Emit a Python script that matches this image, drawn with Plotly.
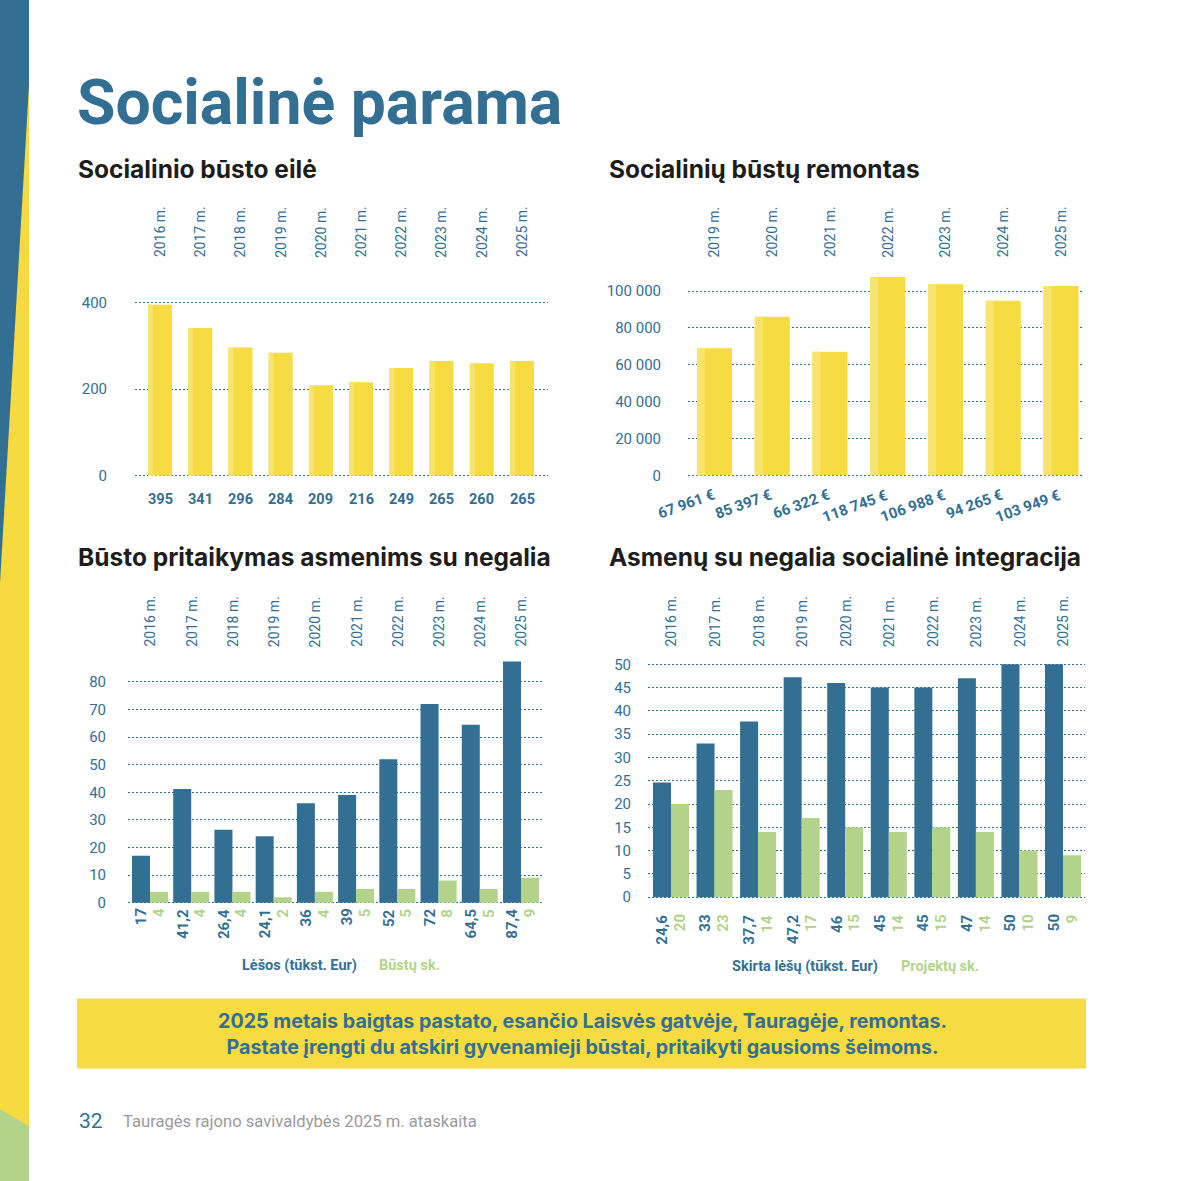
import plotly.graph_objects as go

W = H = 1181

# ---------------- data ----------------
queue_years = ["2016 m.", "2017 m.", "2018 m.", "2019 m.", "2020 m.",
               "2021 m.", "2022 m.", "2023 m.", "2024 m.", "2025 m."]
queue_values = [395, 341, 296, 284, 209, 216, 249, 265, 260, 265]

repair_years = ["2019 m.", "2020 m.", "2021 m.", "2022 m.", "2023 m.", "2024 m.", "2025 m."]
repair_costs = [67961, 85397, 66322, 118745, 106988, 94265, 103949]          # labels
repair_bar_heights = [69000, 86000, 67000, 107700, 103700, 94700, 102800]    # heights as drawn

adapt_years = ["2016 m.", "2017 m.", "2018 m.", "2019 m.", "2020 m.",
               "2021 m.", "2022 m.", "2023 m.", "2024 m.", "2025 m."]
adapt_funds = [17, 41.2, 26.4, 24.1, 36, 39, 52, 72, 64.5, 87.4]
adapt_homes = [4, 4, 4, 2, 4, 5, 5, 8, 5, 9]

integ_years = ["2016 m.", "2017 m.", "2018 m.", "2019 m.", "2020 m.",
               "2021 m.", "2022 m.", "2023 m.", "2024 m.", "2025 m."]
integ_funds = [24.6, 33, 37.7, 47.2, 46, 45, 45, 47, 50, 50]
integ_projects = [20, 23, 14, 17, 15, 14, 15, 14, 10, 9]

# ---------------- style ----------------
BLUE = "#336f93"
YELLOW = "#f6db42"
YELLOW_LIGHT = "#f8e36f"
GREEN = "#b3d38a"
DARK = "#1d1d1b"
GREY = "#9a9a9a"
FONT = "Roboto"
HEAD = "Inter"

# vertical compensation for the page capture
OFF = 2.0
SC = 0.993


def X(px):
    return px / W


def Y(py):
    return 1 - ((py - OFF) / SC) / H


def fmt_dec(v):
    return ("%g" % v).replace(".", ",")


def fmt_eur(v):
    return f"{v:,}".replace(",", " ") + " €"


fig = go.Figure()
annotations = []
shapes = []
layout_axes = {}


def setup_axes(idx, n, left, right, c0, clast, ytop, ybot, y0px, refpx, refval, dtick,
               standoff, tickformat=None):
    spacing = (clast - c0) / (n - 1)
    xr = [-(c0 - left) / spacing, (n - 1) + (right - clast) / spacing]
    k = (y0px - refpx) / refval
    yr = [-(ybot - y0px) / k, (y0px - ytop) / k]
    xn = "xaxis" if idx == 1 else f"xaxis{idx}"
    yn = "yaxis" if idx == 1 else f"yaxis{idx}"
    ya = "y" if idx == 1 else f"y{idx}"
    xa = "x" if idx == 1 else f"x{idx}"
    layout_axes[xn] = dict(domain=[X(left), X(right)], range=xr, anchor=ya,
                           showgrid=False, zeroline=False, showticklabels=False,
                           showline=False, ticks="", fixedrange=True)
    yd = dict(domain=[Y(ybot), Y(ytop)], range=yr, anchor=xa,
              showgrid=True, gridcolor=BLUE, griddash="2px,2px", gridwidth=1,
              zeroline=False, showline=False, ticks="", dtick=dtick, tick0=0,
              tickfont=dict(family=FONT, size=15, color=BLUE),
              ticklabelstandoff=standoff, fixedrange=True)
    if tickformat:
        yd["tickformat"] = tickformat
    layout_axes[yn] = yd
    return xa, ya, spacing


# ---------- Chart 1: Socialinio būsto eilė ----------
xa, ya, sp = setup_axes(1, len(queue_values), 135, 548, 160, 522, 296, 478, 474.5, 301, 400, 200, 27)
idx1 = list(range(len(queue_values)))
wb = 24 / sp
fig.add_trace(go.Bar(x=idx1, y=queue_values, width=wb, offset=-wb / 2,
                     marker=dict(color=YELLOW, line=dict(width=0)), xaxis=xa, yaxis=ya,
                     showlegend=False, hoverinfo="skip"))
fig.add_trace(go.Bar(x=idx1, y=queue_values, width=5 / sp, offset=-wb / 2,
                     marker=dict(color=YELLOW_LIGHT, line=dict(width=0)), xaxis=xa, yaxis=ya,
                     showlegend=False, hoverinfo="skip"))
for i, (yr_, v) in enumerate(zip(queue_years, queue_values)):
    annotations.append(dict(x=i, y=Y(258), xref=xa, yref="paper", text=yr_, textangle=-90,
                            showarrow=False, xanchor="center", yanchor="bottom",
                            font=dict(family=FONT, size=14, color=BLUE)))
    annotations.append(dict(x=i, y=Y(498), xref=xa, yref="paper", text=f"<b>{v}</b>",
                            showarrow=False, xanchor="center", yanchor="middle",
                            font=dict(family=FONT, size=14.5, color=BLUE)))

# ---------- Chart 2: Socialinių būstų remontas ----------
xa, ya, sp = setup_axes(2, len(repair_costs), 688, 1084, 714.5, 1061, 265, 478, 474, 289.5, 100000,
                        20000, 26, tickformat=",d")
idx2 = list(range(len(repair_costs)))
wb = 35 / sp
fig.add_trace(go.Bar(x=idx2, y=repair_bar_heights, width=wb, offset=-wb / 2,
                     marker=dict(color=YELLOW, line=dict(width=0)), xaxis=xa, yaxis=ya,
                     showlegend=False, hoverinfo="skip"))
fig.add_trace(go.Bar(x=idx2, y=repair_bar_heights, width=8 / sp, offset=-wb / 2,
                     marker=dict(color=YELLOW_LIGHT, line=dict(width=0)), xaxis=xa, yaxis=ya,
                     showlegend=False, hoverinfo="skip"))
for i, (yr_, v) in enumerate(zip(repair_years, repair_costs)):
    annotations.append(dict(x=i, y=Y(258), xref=xa, yref="paper", text=yr_, textangle=-90,
                            showarrow=False, xanchor="center", yanchor="bottom",
                            font=dict(family=FONT, size=14, color=BLUE)))
    annotations.append(dict(x=i, y=Y(482), xref=xa, yref="paper", text=f"<b>{fmt_eur(v)}</b>",
                            textangle=-20, showarrow=False, xanchor="right", yanchor="top",
                            xshift=5, font=dict(family=FONT, size=15, color=BLUE)))

# ---------- Chart 3: Būsto pritaikymas ----------
xa, ya, sp = setup_axes(3, len(adapt_funds), 128, 543, 150, 521, 655, 905, 902, 681, 80, 10, 21)
idx3 = list(range(len(adapt_funds)))
w = 18 / sp
fig.add_trace(go.Bar(x=idx3, y=adapt_funds, width=w, offset=-w,
                     marker=dict(color=BLUE, line=dict(width=0)), xaxis=xa, yaxis=ya,
                     showlegend=False, hoverinfo="skip"))
fig.add_trace(go.Bar(x=idx3, y=adapt_homes, width=w, offset=0,
                     marker=dict(color=GREEN, line=dict(width=0)), xaxis=xa, yaxis=ya,
                     showlegend=False, hoverinfo="skip"))
for i, (yr_, a, b) in enumerate(zip(adapt_years, adapt_funds, adapt_homes)):
    annotations.append(dict(x=i, y=Y(648), xref=xa, yref="paper", text=yr_, textangle=-90,
                            showarrow=False, xanchor="center", yanchor="bottom",
                            font=dict(family=FONT, size=14, color=BLUE)))
    annotations.append(dict(x=i - w / 2, y=Y(906), xref=xa, yref="paper", text=f"<b>{fmt_dec(a)}</b>",
                            textangle=-90, showarrow=False, xanchor="center", yanchor="top",
                            font=dict(family=FONT, size=15, color=BLUE)))
    annotations.append(dict(x=i + w / 2, y=Y(906), xref=xa, yref="paper", text=f"<b>{fmt_dec(b)}</b>",
                            textangle=-90, showarrow=False, xanchor="center", yanchor="top",
                            font=dict(family=FONT, size=15, color=GREEN)))
annotations.append(dict(x=X(299), y=Y(965), xref="paper", yref="paper", text="<b>Lėšos (tūkst. Eur)</b>",
                        showarrow=False, xanchor="center", yanchor="middle",
                        font=dict(family=FONT, size=14.5, color=BLUE)))
annotations.append(dict(x=X(409), y=Y(965), xref="paper", yref="paper", text="<b>Būstų sk.</b>",
                        showarrow=False, xanchor="center", yanchor="middle",
                        font=dict(family=FONT, size=14.5, color=GREEN)))

# ---------- Chart 4: Socialinė integracija ----------
xa, ya, sp = setup_axes(4, len(integ_funds), 648, 1085, 671, 1063, 658, 900, 896.5, 663.3, 50, 5, 16)
idx4 = list(range(len(integ_funds)))
w = 18 / sp
fig.add_trace(go.Bar(x=idx4, y=integ_funds, width=w, offset=-w,
                     marker=dict(color=BLUE, line=dict(width=0)), xaxis=xa, yaxis=ya,
                     showlegend=False, hoverinfo="skip"))
fig.add_trace(go.Bar(x=idx4, y=integ_projects, width=w, offset=0,
                     marker=dict(color=GREEN, line=dict(width=0)), xaxis=xa, yaxis=ya,
                     showlegend=False, hoverinfo="skip"))
for i, (yr_, a, b) in enumerate(zip(integ_years, integ_funds, integ_projects)):
    annotations.append(dict(x=i, y=Y(648), xref=xa, yref="paper", text=yr_, textangle=-90,
                            showarrow=False, xanchor="center", yanchor="bottom",
                            font=dict(family=FONT, size=14, color=BLUE)))
    annotations.append(dict(x=i - w / 2, y=Y(912), xref=xa, yref="paper", text=f"<b>{fmt_dec(a)}</b>",
                            textangle=-90, showarrow=False, xanchor="center", yanchor="top",
                            font=dict(family=FONT, size=15, color=BLUE)))
    annotations.append(dict(x=i + w / 2, y=Y(912), xref=xa, yref="paper", text=f"<b>{fmt_dec(b)}</b>",
                            textangle=-90, showarrow=False, xanchor="center", yanchor="top",
                            font=dict(family=FONT, size=15, color=GREEN)))
annotations.append(dict(x=X(805), y=Y(966), xref="paper", yref="paper", text="<b>Skirta lėšų (tūkst. Eur)</b>",
                        showarrow=False, xanchor="center", yanchor="middle",
                        font=dict(family=FONT, size=14.5, color=BLUE)))
annotations.append(dict(x=X(940), y=Y(966), xref="paper", yref="paper", text="<b>Projektų sk.</b>",
                        showarrow=False, xanchor="center", yanchor="middle",
                        font=dict(family=FONT, size=14.5, color=GREEN)))

# ---------- Titles ----------
annotations.append(dict(x=X(75), y=Y(101), xref="paper", yref="paper", text="<b>Socialinė parama</b>",
                        showarrow=False, xanchor="left", yanchor="middle",
                        font=dict(family=FONT, size=62.5, color=BLUE)))
for tx, px, py in [("Socialinio būsto eilė", 76, 167), ("Socialinių būstų remontas", 607, 167),
                   ("Būsto pritaikymas asmenims su negalia", 76, 556),
                   ("Asmenų su negalia socialinė integracija", 607, 556)]:
    annotations.append(dict(x=X(px), y=Y(py), xref="paper", yref="paper", text=f"<b>{tx}</b>",
                            showarrow=False, xanchor="left", yanchor="middle",
                            font=dict(family=HEAD, size=24.5, color=DARK)))

# ---------- Banner ----------
shapes.append(dict(type="rect", xref="paper", yref="paper", x0=X(77), x1=X(1086), y0=Y(1068), y1=Y(998),
                   fillcolor=YELLOW, line=dict(width=0), layer="below"))
annotations.append(dict(x=X(582), y=Y(1034), xref="paper", yref="paper",
                        text="<b>2025 metais baigtas pastato, esančio Laisvės gatvėje, Tauragėje, remontas.<br>"
                             "Pastate įrengti du atskiri gyvenamieji būstai, pritaikyti gausioms šeimoms.</b>",
                        showarrow=False, xanchor="center", yanchor="middle", align="center",
                        font=dict(family=HEAD, size=19.7, color=BLUE)))

# ---------- Footer ----------
annotations.append(dict(x=X(77), y=Y(1121), xref="paper", yref="paper", text="32",
                        showarrow=False, xanchor="left", yanchor="middle",
                        font=dict(family=FONT, size=21, color=BLUE)))
annotations.append(dict(x=X(121), y=Y(1121), xref="paper", yref="paper",
                        text="Tauragės rajono savivaldybės 2025 m. ataskaita",
                        showarrow=False, xanchor="left", yanchor="middle",
                        font=dict(family=FONT, size=16.6, color=GREY)))


# ---------- Left decorative strip ----------
def path(pts):
    return "M " + " L ".join(f"{X(a):.5f},{Y(b):.5f}" for a, b in pts) + " Z"


shapes.append(dict(type="path", xref="paper", yref="paper",
                   path=path([(0, -10), (29, -10), (29, 1195), (0, 1195)]),
                   fillcolor="#f6da3f", line=dict(width=0), layer="below"))
shapes.append(dict(type="path", xref="paper", yref="paper",
                   path=path([(0, -10), (29, -10), (29, 83), (0, 582)]),
                   fillcolor=BLUE, line=dict(width=0), layer="below"))
shapes.append(dict(type="path", xref="paper", yref="paper",
                   path=path([(0, 1109), (29, 1126), (29, 1195), (0, 1195)]),
                   fillcolor=GREEN, line=dict(width=0), layer="below"))

fig.update_layout(
    width=W, height=H, autosize=False,
    margin=dict(l=0, r=0, t=0, b=0),
    paper_bgcolor="white", plot_bgcolor="rgba(0,0,0,0)",
    barmode="overlay", separators=", ",
    annotations=annotations, shapes=shapes,
    font=dict(family=FONT, color=BLUE),
    **layout_axes,
)

fig.write_html("out.html")
